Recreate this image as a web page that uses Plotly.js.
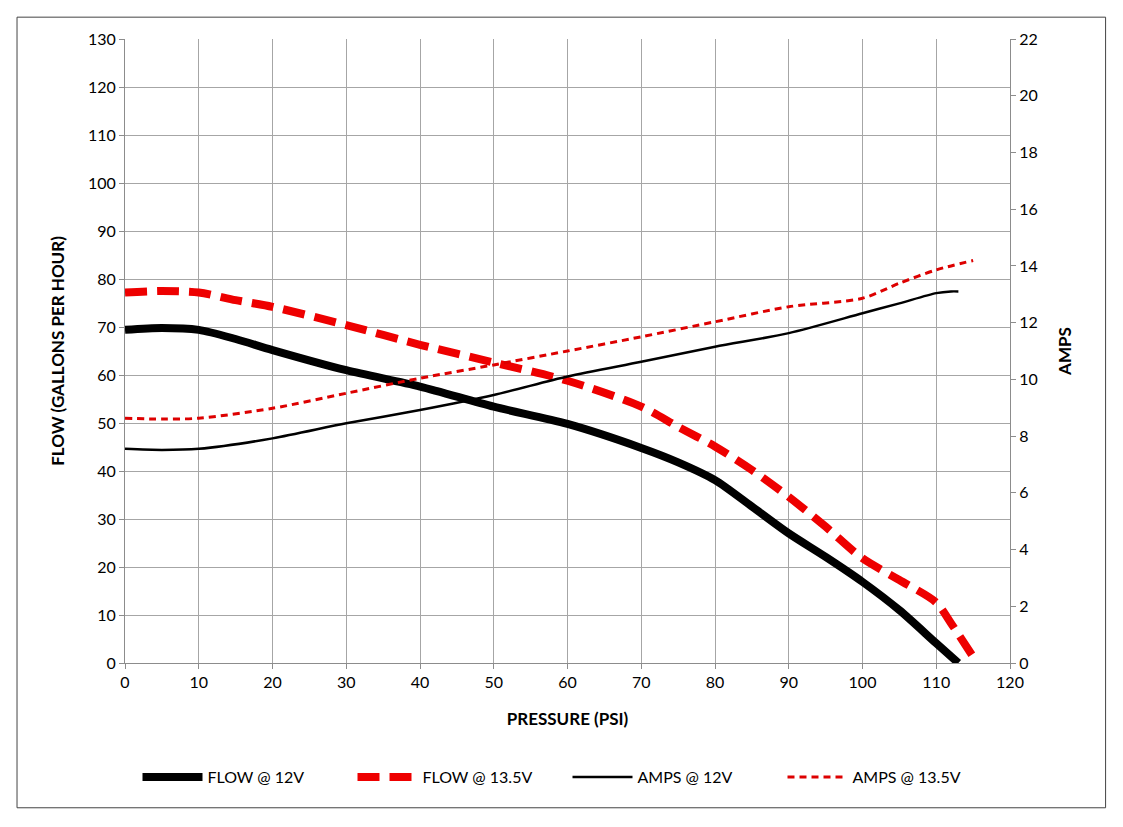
<!DOCTYPE html>
<html><head><meta charset="utf-8">
<script src="https://cdn.plot.ly/plotly-3.0.1.min.js"></script>
<style>html,body{margin:0;padding:0;background:#fff}#chart{width:1123px;height:827px}</style>
</head><body><div id="chart"></div>
<script>
const pressureFlow12 = [0, 5, 10, 15, 20, 30, 40, 50, 60, 70, 75, 80, 85, 90, 95, 100, 105, 110, 113];
const flow12 = [69.4, 69.8, 69.4, 67.5, 65.2, 61.0, 57.6, 53.4, 49.8, 44.8, 41.8, 38.1, 32.6, 27.0, 22.1, 16.9, 11.0, 4.1, 0];
const pressureFlow135 = [0, 5, 10, 15, 20, 30, 40, 50, 60, 70, 75, 80, 85, 90, 95, 100, 105, 110, 112, 115];
const flow135 = [77.2, 77.5, 77.2, 75.6, 74.2, 70.4, 66.3, 62.6, 58.8, 53.4, 49.2, 45.1, 40.2, 34.6, 28.4, 21.8, 17.3, 12.6, 8.3, 1.3];
const pressureAmps12 = [0, 5, 10, 20, 30, 40, 50, 60, 70, 80, 90, 100, 105, 110, 112, 113];
const amps12 = [7.55, 7.51, 7.55, 7.92, 8.45, 8.92, 9.45, 10.1, 10.62, 11.15, 11.63, 12.33, 12.68, 13.04, 13.1, 13.1];
const pressureAmps135 = [0, 5, 10, 20, 30, 40, 50, 60, 70, 80, 90, 100, 105, 110, 115];
const amps135 = [8.63, 8.6, 8.63, 8.98, 9.51, 10.04, 10.51, 11.0, 11.5, 12.03, 12.56, 12.86, 13.39, 13.86, 14.19];
const seriesNames = ["FLOW @ 12V", "FLOW @ 13.5V", "AMPS @ 12V", "AMPS @ 13.5V"];

const FONT = "Lato, 'Liberation Sans', sans-serif";
const traces = [
  {x: pressureFlow12, y: flow12, name: seriesNames[0], mode: "lines", line: {color: "#000", width: 8, shape: "spline", smoothing: 0.8}},
  {x: pressureFlow135, y: flow135, name: seriesNames[1], mode: "lines", line: {color: "#ee0000", width: 8, dash: "22px,10px", shape: "spline", smoothing: 0.8}},
  {x: pressureAmps12, y: amps12, name: seriesNames[2], mode: "lines", yaxis: "y2", line: {color: "#000", width: 2.5, shape: "spline", smoothing: 0.8}},
  {x: pressureAmps135, y: amps135, name: seriesNames[3], mode: "lines", yaxis: "y2", line: {color: "#dd0000", width: 3, dash: "7px,5px", shape: "spline", smoothing: 0.8}}
];
const axisCommon = {
  showgrid: true, gridcolor: "#a6a6a6", gridwidth: 1,
  showline: true, linecolor: "#8c8c8c", linewidth: 1,
  ticks: "outside", ticklen: 5, tickcolor: "#8c8c8c",
  tickfont: {family: FONT, size: 16, color: "#000"},
  zeroline: false
};
const layout = {
  width: 1123, height: 827,
  margin: {l: 125, r: 113, t: 39, b: 164},
  paper_bgcolor: "#fff", plot_bgcolor: "#fff",
  font: {family: FONT, color: "#000"},
  showlegend: true,
  legend: {orientation: "h", x: 0.5, xanchor: "center", y: -0.183, yanchor: "middle",
           font: {family: FONT, size: 16, color: "#000"}, itemwidth: 60, entrywidth: 140, traceorder: "normal"},
  xaxis: Object.assign({}, axisCommon, {
    range: [0, 120], dtick: 10, tick0: 0,
    title: {text: "<b>PRESSURE (PSI)</b>", font: {family: FONT, size: 17, color: "#000"}, standoff: 22}
  }),
  yaxis: Object.assign({}, axisCommon, {
    range: [0, 130], dtick: 10, tick0: 0,
    title: {text: "<b>FLOW (GALLONS PER HOUR)</b>", font: {family: FONT, size: 17, color: "#000"}, standoff: 19}
  }),
  yaxis2: Object.assign({}, axisCommon, {
    overlaying: "y", side: "right", range: [0, 22], dtick: 2, tick0: 0, showgrid: false,
    title: {text: "<b>AMPS</b>", font: {family: FONT, size: 17, color: "#000"}, standoff: 22}
  }),
  shapes: [{type: "rect", xref: "paper", yref: "paper", x0: -0.122, x1: 1.108, y0: -0.232, y1: 1.035,
            line: {color: "#444", width: 1}, fillcolor: "rgba(0,0,0,0)", layer: "below"}]
};
Plotly.newPlot("chart", traces, layout, {displayModeBar: false, staticPlot: true});
</script></body></html>
